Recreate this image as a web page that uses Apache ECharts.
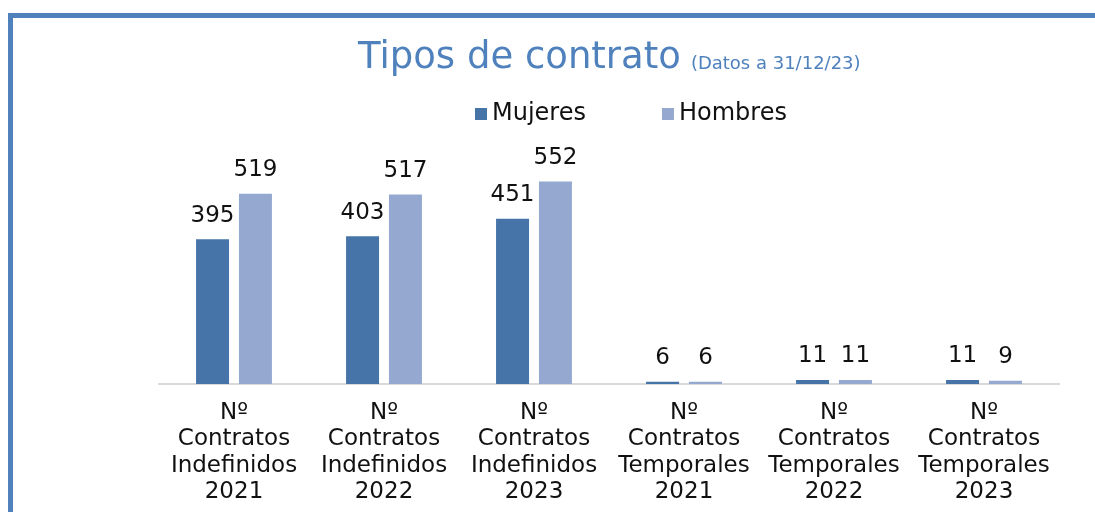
<!DOCTYPE html>
<html><head><meta charset="utf-8">
<script src="https://cdn.jsdelivr.net/npm/echarts@6/dist/echarts.min.js"></script>
<style>html,body{margin:0;padding:0;background:#fff}#c{width:1095px;height:512px}</style>
</head><body><div id="c"></div>
<script>
const categories = [
  "Nº\nContratos\nIndefinidos\n2021",
  "Nº\nContratos\nIndefinidos\n2022",
  "Nº\nContratos\nIndefinidos\n2023",
  "Nº\nContratos\nTemporales\n2021",
  "Nº\nContratos\nTemporales\n2022",
  "Nº\nContratos\nTemporales\n2023"
];
const mujeres = [395, 403, 451, 6, 11, 11];
const hombres = [519, 517, 552, 6, 11, 9];
const seriesNames = ["Mujeres", "Hombres"];
const titleMain = "Tipos de contrato";
const titleSub = "(Datos a 31/12/23)";

const FONT = "DejaVu Sans";
const chart = echarts.init(document.getElementById('c'));
chart.setOption({
  backgroundColor: '#fff',
  animation: false,
  title: {
    text: '{a|' + titleMain + '} {b|' + titleSub + '}',
    left: 353, top: 35,
    textStyle: {
      rich: {
        a: { fontFamily: FONT, fontSize: 37, fontWeight: 'normal', color: '#4f81bd' },
        b: { fontFamily: FONT, fontSize: 18, fontWeight: 'normal', color: '#4f81bd', padding: [12, 0, 0, 5] }
      }
    }
  },
  legend: {
    top: 97, left: 470,
    itemWidth: 12, itemHeight: 12, itemGap: 76,
    icon: 'rect',
    textStyle: { fontFamily: FONT, fontSize: 24, color: '#111' },
    data: seriesNames
  },
  graphic: [{
    type: 'rect', silent: true,
    shape: { x: 10.5, y: 15.5, width: 1200, height: 600 },
    style: { fill: 'none', stroke: '#4f81bd', lineWidth: 5 }
  }],
  grid: { left: 159, right: 36, top: 164, bottom: 128 },
  xAxis: {
    type: 'category', data: categories,
    axisLine: { lineStyle: { color: '#d9d9d9', width: 2 } },
    axisTick: { show: false },
    axisLabel: { interval: 0, fontFamily: FONT, fontSize: 23, color: '#111', lineHeight: 26.3, margin: 16 }
  },
  yAxis: { type: 'value', min: 0, max: 600, show: false, splitLine: { show: false } },
  series: [
    { name: seriesNames[0], type: 'bar', data: mujeres, barWidth: 33, barGap: '30%',
      itemStyle: { color: '#4674a8' },
      label: { show: true, position: 'top', distance: 12, fontFamily: FONT, fontSize: 23, color: '#111' } },
    { name: seriesNames[1], type: 'bar', data: hombres, barWidth: 33,
      itemStyle: { color: '#95a9d0' },
      label: { show: true, position: 'top', distance: 12, fontFamily: FONT, fontSize: 23, color: '#111' } }
  ]
});
</script></body></html>
